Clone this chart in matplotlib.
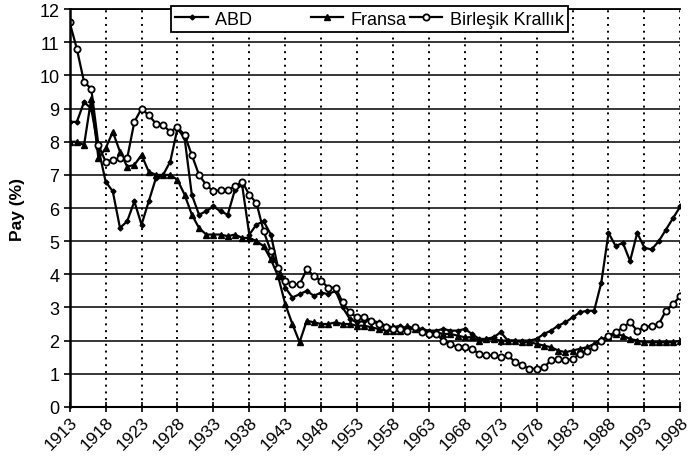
import numpy as np
import matplotlib
matplotlib.use("Agg")
import matplotlib.pyplot as plt

plt.rcParams['font.family'] = ['Liberation Sans', 'DejaVu Sans']

years = list(range(1913, 1999))

# ABD (USA)
abd = [8.6, 8.6, 9.2, 9.0, 7.8, 6.8, 6.5, 5.4, 5.6, 6.2,
       5.5, 6.2, 6.9, 7.0, 7.4, 8.4, 8.1, 6.4, 5.8, 5.9,
       6.05, 5.9, 5.8, 6.55, 6.7, 5.2, 5.5, 5.6, 5.2, 4.2,
       3.6, 3.3, 3.4, 3.5, 3.35, 3.45, 3.4, 3.5, 3.0, 2.65,
       2.55, 2.6, 2.6, 2.55, 2.45, 2.4, 2.45, 2.35, 2.4, 2.35,
       2.3, 2.3, 2.35, 2.3, 2.3, 2.35, 2.2, 2.05, 2.05, 2.1,
       2.25, 2.0, 2.0, 2.0, 2.0, 2.05, 2.2, 2.3, 2.45, 2.55,
       2.7, 2.85, 2.9, 2.9, 3.75, 5.25, 4.85, 4.95, 4.4, 5.25,
       4.8, 4.75, 5.0, 5.35, 5.7, 6.05]

# Fransa (France)
fransa = [8.0, 8.0, 7.9, 9.3, 7.5, 7.8, 8.3, 7.7, 7.25, 7.3,
          7.6, 7.1, 7.0, 7.0, 7.0, 6.85, 6.4, 5.8, 5.4, 5.2,
          5.2, 5.2, 5.15, 5.2, 5.1, 5.1, 5.0, 4.85, 4.45, 3.95,
          3.1, 2.5, 1.95, 2.6, 2.55, 2.5, 2.5, 2.55, 2.5, 2.5,
          2.45, 2.45, 2.4, 2.35, 2.3, 2.3, 2.3, 2.45, 2.35, 2.3,
          2.25, 2.25, 2.2, 2.2, 2.15, 2.1, 2.1, 2.0, 2.05, 2.05,
          2.0, 2.0, 2.0, 1.95, 1.95, 1.9, 1.85, 1.8, 1.7, 1.65,
          1.7, 1.75, 1.8, 1.9, 2.05, 2.1, 2.2, 2.15, 2.05, 2.0,
          1.95, 1.95, 1.95, 1.95, 1.95, 2.0]

# Birlesik Krallik (UK)
uk = [11.6, 10.8, 9.8, 9.6, 7.9, 7.4, 7.45, 7.5, 7.5, 8.6,
      9.0, 8.8, 8.55, 8.5, 8.3, 8.45, 8.2, 7.6, 7.0, 6.7,
      6.5, 6.55, 6.55, 6.65, 6.8, 6.4, 6.15, 5.3, 4.7, 4.2,
      3.8, 3.7, 3.7, 4.15, 3.95, 3.8, 3.6, 3.6, 3.15, 2.85,
      2.7, 2.7, 2.6, 2.5, 2.4, 2.35, 2.35, 2.3, 2.4, 2.25,
      2.2, 2.2, 2.0, 1.9, 1.8, 1.8, 1.75, 1.6, 1.55, 1.55,
      1.5, 1.55, 1.35, 1.25, 1.15, 1.15, 1.2, 1.4, 1.45, 1.4,
      1.45, 1.6, 1.7, 1.8, 2.0, 2.15, 2.25, 2.4, 2.55, 2.3,
      2.4, 2.45, 2.5, 2.9, 3.1, 3.35]

tick_years = list(range(1913, 1999, 5))

fig = plt.figure(figsize=(6.9, 4.64), dpi=100)
ax = fig.add_axes([0.101, 0.121, 0.885, 0.857])

ax.plot(years, abd, color='black', lw=1.6, marker='D', ms=2.5, label='ABD')
ax.plot(years, fransa, color='black', lw=1.6, marker='^', ms=4, label='Fransa')
ax.plot(years, uk, color='black', lw=1.6, marker='o', ms=4.5,
        markerfacecolor='white', markeredgewidth=1.3, label='Birleşik Krallık')

ax.set_xlim(1913, 1998)
ax.set_ylim(0, 12)
ax.set_yticks(range(0, 13))
ax.set_xticks(tick_years)
ax.set_xticklabels([str(y) for y in tick_years], rotation=45,
                   ha='right', rotation_mode='anchor', fontsize=12.5)
ax.tick_params(axis='y', labelsize=13, direction='out', length=4, width=1.2)
ax.tick_params(axis='x', direction='inout', length=7, width=1.2, pad=2)

ax.yaxis.grid(True, color='black', lw=1.1, ls='-')
ax.xaxis.grid(True, color='black', lw=1.4, ls=(0, (1, 2.5)))
ax.set_axisbelow(True)

ax.spines['right'].set_visible(False)
ax.spines['left'].set_linewidth(1.8)
ax.spines['bottom'].set_linewidth(1.5)
ax.spines['top'].set_linewidth(1.3)

ax.set_ylabel('Pay (%)', fontsize=12.5, fontweight='bold', labelpad=10)

handles, _ = ax.get_legend_handles_labels()
leg = ax.legend(handles, ['ABD           ', 'Fransa', 'Birleşik Krallık'],
                loc='upper center', bbox_to_anchor=(0.491, 1.008), ncol=3,
                frameon=True, fancybox=False, edgecolor='black',
                fontsize=13, handlelength=1.8, handletextpad=0.4,
                columnspacing=0.2, borderpad=0.25, borderaxespad=0)
leg.get_frame().set_linewidth(1.3)
leg.get_frame().set_alpha(1)

fig.savefig('out.png', dpi=100)
